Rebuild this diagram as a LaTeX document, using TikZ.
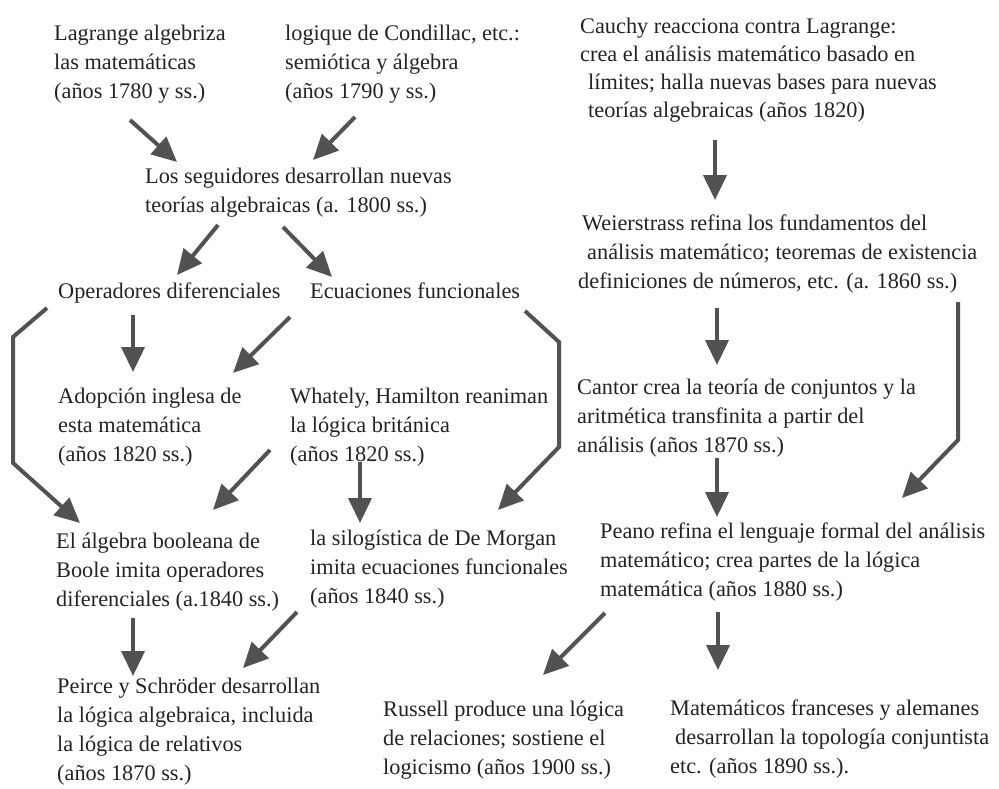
\documentclass[tikz,border=0pt]{standalone}
\usepackage{fontspec}
\setmainfont{Liberation Serif}
\usetikzlibrary{arrows.meta,positioning}
\definecolor{arrowgray}{RGB}{82,82,82}
\definecolor{inkblack}{RGB}{35,35,35}

\begin{document}
\begin{tikzpicture}[x=1pt,y=-1pt,
  txt/.style={anchor=base west,align=left,inner sep=0pt,text=inkblack,
    font=\fontsize{22.3}{29}\selectfont},
  flow/.style={draw=arrowgray,line width=4pt,
    -{Triangle[width=23pt,length=25pt]}},
  brace/.style={flow,line join=miter}]
\useasboundingbox (0,0) rectangle (999,788);

\node[txt] (LA) at (54,98) {Lagrange algebriza\\las matemáticas\\(años 1780 y ss.)};
\node[txt] (CO) at (285,98) {logique de Condillac, etc.:\\semiótica y álgebra\\(años 1790 y ss.)};
\node[txt,font=\fontsize{22.3}{28}\selectfont] (CA) at (580,117) {Cauchy reacciona contra Lagrange:\\crea el análisis matemático basado en\\\hspace{8pt}límites; halla nuevas bases para nuevas\\\hspace{8pt}teorías algebraicas (años 1820)};
\node[txt] (SE) at (145,212) {Los seguidores desarrollan nuevas\\teorías algebraicas (a. 1800 ss.)};
\node[txt] (OP) at (58,298) {Operadores diferenciales};
\node[txt] (EC) at (310,298) {Ecuaciones funcionales};
\node[txt] (WE) at (578,288) {\hspace{4pt}Weierstrass refina los fundamentos del\\\hspace{9pt}análisis matemático; teoremas de existencia\\definiciones de números, etc. (a. 1860 ss.)};
\node[txt] (AD) at (58,461) {Adopción inglesa de\\esta matemática\\(años 1820 ss.)};
\node[txt] (WH) at (290,461) {Whately, Hamilton reaniman\\la lógica británica\\(años 1820 ss.)};
\node[txt] (CN) at (577,452) {Cantor crea la teoría de conjuntos y la\\aritmética transfinita a partir del\\análisis (años 1870 ss.)};
\node[txt] (BO) at (56,606) {El álgebra booleana de\\Boole imita operadores\\diferenciales (a.1840 ss.)};
\node[txt] (DM) at (310,603) {la silogística de De Morgan\\imita ecuaciones funcionales\\(años 1840 ss.)};
\node[txt] (PE) at (600,596) {Peano refina el lenguaje formal del análisis\\matemático; crea partes de la lógica\\matemática (años 1880 ss.)};
\node[txt] (PS) at (57,780) {Peirce y Schröder desarrollan\\la lógica algebraica, incluida\\la lógica de relativos\\(años 1870 ss.)};
\node[txt] (RU) at (383,774) {Russell produce una lógica\\de relaciones; sostiene el\\logicismo (años 1900 ss.)};
\node[txt] (MF) at (670,773) {Matemáticos franceses y alemanes\\\hspace{5pt}desarrollan la topología conjuntista\\etc. (años 1890 ss.).};

\coordinate (LAt) at (130,120);  \coordinate (SEa) at (177,162);
\coordinate (COt) at (355,117);  \coordinate (SEb) at (313,160);
\coordinate (SEt) at (218,225);  \coordinate (OPh) at (177,275);
\coordinate (SEu) at (283,227);  \coordinate (ECh) at (332,277);
\coordinate (OPt) at (133,315);  \coordinate (ADa) at (133,372);
\coordinate (ECt) at (290,317);  \coordinate (ADb) at (233,373);
\coordinate (OPl) at (47,308);   \coordinate (BOa) at (80,523);
\coordinate (ECr) at (525,311);  \coordinate (DMa) at (498,510);
\coordinate (WHt) at (270,450);  \coordinate (BOb) at (213,510);
\coordinate (WHu) at (360,462);  \coordinate (DMb) at (360,523);
\coordinate (BOt) at (133,618);  \coordinate (PSa) at (133,676);
\coordinate (DMt) at (297,612);  \coordinate (PSb) at (243,668);
\coordinate (CAt) at (715,140);  \coordinate (WEh) at (715,200);
\coordinate (WEt) at (717,308);  \coordinate (CNh) at (717,365);
\coordinate (WEr) at (958,302);  \coordinate (PEa) at (902,498);
\coordinate (CNt) at (717,458);  \coordinate (PEb) at (717,517);
\coordinate (PEt) at (605,613);  \coordinate (RUh) at (543,675);
\coordinate (PEu) at (718,612);  \coordinate (MFh) at (718,670);

\draw[flow] (LAt) -- (SEa);
\draw[flow] (COt) -- (SEb);
\draw[flow] (SEt) -- (OPh);
\draw[flow] (SEu) -- (ECh);
\draw[flow] (OPt) -- (ADa);
\draw[flow] (ECt) -- (ADb);
\draw[brace] (OPl) -- ++(-34,29) -- ++(0,126) -- (BOa);
\draw[brace] (ECr) -- ++(34,31) -- ++(0,105) -- (DMa);
\draw[flow] (WHt) -- (BOb);
\draw[flow] (WHu) -- (DMb);
\draw[flow] (BOt) -- (PSa);
\draw[flow] (DMt) -- (PSb);
\draw[flow] (CAt) -- (WEh);
\draw[flow] (WEt) -- (CNh);
\draw[brace] (WEr) -- ++(0,138) -- (PEa);
\draw[flow] (CNt) -- (PEb);
\draw[flow] (PEt) -- (RUh);
\draw[flow] (PEu) -- (MFh);

\end{tikzpicture}
\end{document}
